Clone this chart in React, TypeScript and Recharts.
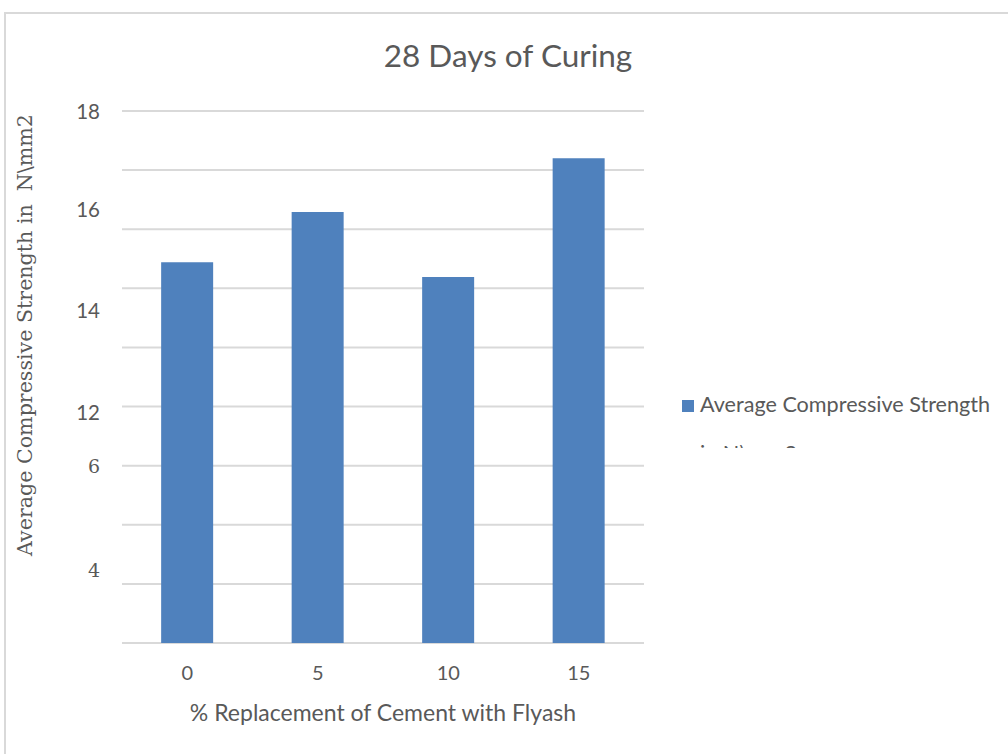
import React from "react";
import {
  BarChart,
  Bar,
  XAxis,
  YAxis,
  CartesianGrid,
  Legend,
} from "recharts";

// % replacement of cement with flyash
const categories = ["0", "5", "10", "15"];
// average compressive strength, N/mm2
const strength = [12.88, 14.58, 12.38, 16.4];

// value axis range and gridline values
const yDomain = [0, 18];
const gridTicks = [0, 2, 4, 6, 8, 10, 12, 14, 16, 18];
// tick labels as printed on the picture, and where they sit on the value axis
const yTickLabels = ["18", "16", "14", "12", "6", "4"];
const yTickValues = [18, 14.68, 11.26, 7.81, 6, 2.47];

const SERIES_NAME = "Average Compressive Strength in N\\mm2";
const TEXT = "#595959";
const SANS = "Lato, 'Noto Sans', sans-serif";
const SERIF = "'DejaVu Serif', serif";

const data = categories.map((c, i) => ({ pct: c, strength: strength[i] }));

// gridlines at the gridTicks values rather than at the label ticks
const gridLines = ({ yAxis, offset }: any) => {
  if (yAxis && typeof yAxis.scale === "function") {
    return gridTicks.map((t) => yAxis.scale(t));
  }
  const [lo, hi] = yDomain;
  return gridTicks.map((t) => offset.top + offset.height * (1 - (t - lo) / (hi - lo)));
};

const YLabelTick = (props: any) => {
  const { x, y, payload } = props;
  // find the printed label closest to this tick value
  let idx = 0;
  yTickValues.forEach((v, i) => {
    if (Math.abs(v - payload.value) < Math.abs(yTickValues[idx] - payload.value)) idx = i;
  });
  const label = yTickLabels[idx];
  // the lower two labels are printed in a serif face
  const serif = Number(label) < 10;
  return (
    <text
      x={x - 14}
      y={y}
      fill={TEXT}
      fontSize={serif ? 19 : 20.5}
      fontFamily={serif ? SERIF : SANS}
      textAnchor="end"
      dominantBaseline="central"
    >
      {label}
    </text>
  );
};

const LegendBox = ({ payload }: any) => {
  const item = payload && payload[0];
  if (!item) return null;
  return (
    <div style={{ position: "relative", width: 320, height: 68, overflow: "hidden" }}>
      <span
        style={{
          position: "absolute",
          left: 0,
          top: 20,
          width: 12,
          height: 12,
          background: item.color,
        }}
      />
      <div
        style={{
          position: "absolute",
          left: 18,
          top: 0,
          width: 300,
          fontFamily: SANS,
          fontSize: 21.6,
          lineHeight: "49px",
          color: TEXT,
          textAlign: "left",
        }}
      >
        {item.value}
      </div>
    </div>
  );
};

export default function App() {
  return (
    <div
      style={{
        position: "absolute",
        left: 0,
        top: 0,
        width: 1008,
        height: 754,
        overflow: "hidden",
        background: "#fff",
      }}
    >
      {/* chart frame, runs off the right and bottom edges */}
      <div
        style={{
          position: "absolute",
          left: 4,
          top: 12,
          width: 1200,
          height: 900,
          borderTop: "2px solid #D9D9D9",
          borderLeft: "2px solid #D9D9D9",
        }}
      />
      <div
        style={{
          position: "absolute",
          left: 0,
          width: 1016,
          top: 33,
          textAlign: "center",
          fontFamily: SANS,
          fontSize: 31.5,
          color: TEXT,
          lineHeight: "44px",
        }}
      >
        28 Days of Curing
      </div>
      <div
        style={{
          position: "absolute",
          left: 25,
          top: 335,
          transform: "translate(-50%, -50%) rotate(-90deg)",
          whiteSpace: "nowrap",
          fontFamily: SERIF,
          fontSize: 20.6,
          color: TEXT,
        }}
      >
        Average Compressive Strength in&nbsp;&nbsp;N\mm2
      </div>
      <div
        style={{
          position: "absolute",
          left: 122,
          width: 522,
          top: 697,
          textAlign: "center",
          fontFamily: SANS,
          fontSize: 23,
          color: TEXT,
          lineHeight: "30px",
        }}
      >
        % Replacement of Cement with Flyash
      </div>
      <div style={{ position: "absolute", left: 0, top: 0 }}>
        <BarChart
          width={1008}
          height={754}
          data={data}
          margin={{ top: 111, right: 364, bottom: 0, left: 0 }}
          barCategoryGap="30%"
        >
          <CartesianGrid
            vertical={false}
            stroke="#D9D9D9"
            strokeWidth={2}
            horizontalCoordinatesGenerator={gridLines}
          />
          <XAxis
            dataKey="pct"
            height={111}
            axisLine={false}
            tickLine={false}
            tickMargin={17}
            tick={{ fill: TEXT, fontSize: 20, fontFamily: SANS }}
          />
          <YAxis
            domain={yDomain}
            ticks={yTickValues}
            interval={0}
            width={122}
            axisLine={false}
            tickLine={false}
            tick={<YLabelTick />}
          />
          <Legend
            layout="horizontal"
            align="center"
            verticalAlign="middle"
            content={<LegendBox />}
            wrapperStyle={{ left: 682, top: 380, width: 320 }}
          />
          <Bar
            dataKey="strength"
            name={SERIES_NAME}
            fill="#4F81BD"
            isAnimationActive={false}
          />
        </BarChart>
      </div>
    </div>
  );
}
